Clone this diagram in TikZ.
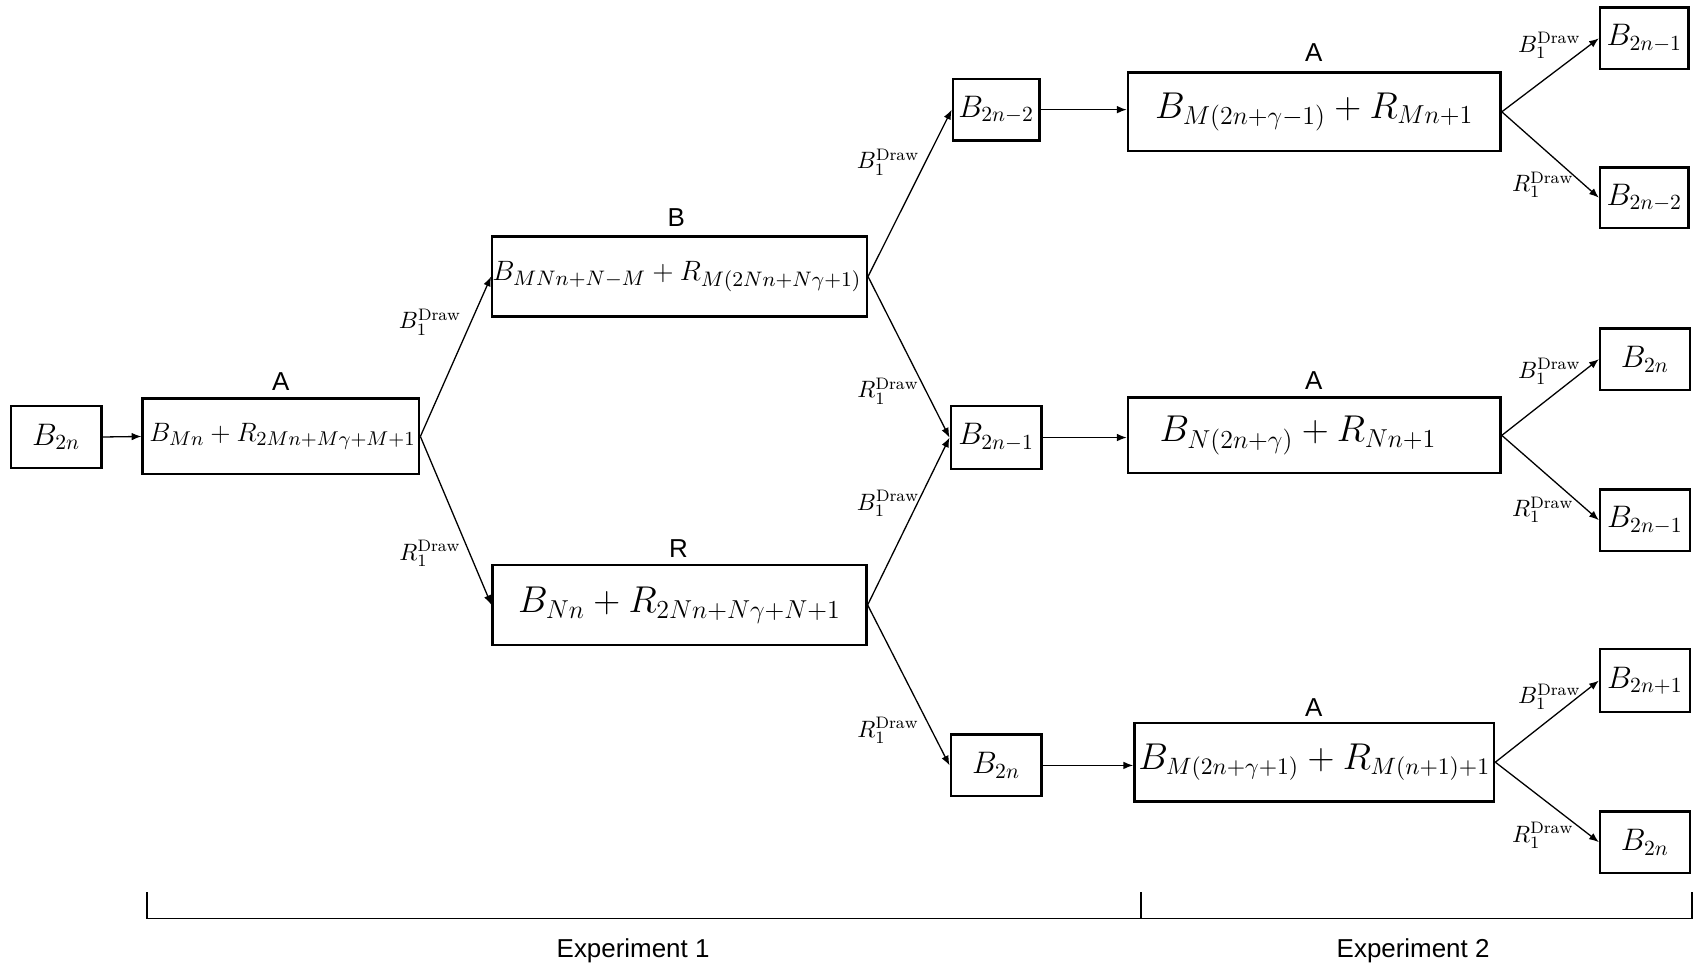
\documentclass[tikz,border=0pt]{standalone}
\usepackage{graphicx}
\usepackage{fontspec}
\setsansfont{Liberation Sans}
\usetikzlibrary{arrows.meta}
\tikzset{
  box/.style={draw, line width=1.1pt, inner sep=0pt, font=\fontsize{14}{16}\selectfont},
  bigbox/.style={box, font=\fontsize{16.5}{18}\selectfont},
  arr/.style={-{Latex[length=4.5pt,width=3.5pt]}, line width=0.6pt},
  elab/.style={inner sep=0pt, font=\fontsize{11}{12}\selectfont},
  grp/.style={inner sep=0pt, font=\sffamily\fontsize{12}{14}\selectfont},
  brk/.style={line width=0.6pt}
}
\begin{document}
\begin{tikzpicture}[x=0.5pt,y=-0.5pt]
\useasboundingbox (0,0) rectangle (1568,897);
% nodes
\node[box, minimum width=42pt, minimum height=28.5pt] (n0) at (52,404.5) {$B_{2n}$};
\node[box, minimum width=128pt, minimum height=35pt, font=\fontsize{13.1}{15}\selectfont] (a1) at (260,404) {\rule{1.5pt}{0pt}\scalebox{1.025}{$B_{Mn}+R_{2Mn+M\gamma+M+1}$}};
\node[box, minimum width=173pt, minimum height=37pt, font=\fontsize{13.1}{15}\selectfont] (bb) at (629,256) {\scalebox{1.08}{$B_{MNn+N-M}+R_{M(2Nn+N\gamma+1)}$}\rule{2.5pt}{0pt}};
\node[bigbox, minimum width=173pt, minimum height=37pt] (rr) at (629,560) {$B_{Nn}+R_{2Nn+N\gamma+N+1}$};
\node[box, minimum width=40pt, minimum height=28.5pt] (s1) at (922,101.5) {$B_{2n-2}$};
\node[box, minimum width=42pt, minimum height=29pt] (s2) at (922,405) {$B_{2n-1}$};
\node[box, minimum width=42pt, minimum height=28.5pt] (s3) at (922,708.5) {$B_{2n}$};
\node[bigbox, minimum width=172.5pt, minimum height=36.5pt] (t1) at (1216.5,103.5) {$B_{M(2n+\gamma-1)}+R_{Mn+1}$};
\node[bigbox, minimum width=172.5pt, minimum height=35pt] (t2) at (1216.5,403) {$B_{N(2n+\gamma)}+R_{Nn+1}$\rule{15pt}{0pt}};
\node[bigbox, minimum width=166.5pt, minimum height=36.5pt, font=\fontsize{16.1}{17}\selectfont] (t3) at (1216.5,705.5) {$B_{M(2n+\gamma+1)}+R_{M(n+1)+1}$};
\node[box, minimum width=41pt, minimum height=28.5pt] (r1) at (1522,35.5) {$B_{2n-1}$};
\node[box, minimum width=41pt, minimum height=28pt] (r2) at (1522,183) {$B_{2n-2}$};
\node[box, minimum width=41.5pt, minimum height=28.5pt] (r3) at (1522.5,332.5) {$B_{2n}$};
\node[box, minimum width=41.5pt, minimum height=28.5pt] (r4) at (1522.5,481.5) {$B_{2n-1}$};
\node[box, minimum width=41.5pt, minimum height=29pt] (r5) at (1522.5,630) {$B_{2n+1}$};
\node[box, minimum width=41.5pt, minimum height=28.5pt] (r6) at (1522.5,779.5) {$B_{2n}$};
% group labels
\node[grp] (la1) at (260,353) {A};
\node[grp] (lbb) at (626,201) {B};
\node[grp] (lrr) at (628,508) {R};
\node[grp] (lt1) at (1216,49) {A};
\node[grp] (lt2) at (1216,352) {A};
\node[grp] (lt3) at (1216,655) {A};
% connectors
\draw[arr] (n0.east) -- (a1.west);
\draw[arr] (a1.east) -- (bb.west);
\draw[arr] (a1.east) -- (rr.west);
\draw[arr] (bb.east) -- (s1.west);
\draw[arr] (bb.east) -- (s2.west);
\draw[arr] (rr.east) -- (s2.west);
\draw[arr] (rr.east) -- (s3.west);
\draw[arr] (s1.east) -- (t1.west |- s1.east);
\draw[arr] (s2.east) -- (t2.west |- s2.east);
\draw[arr] (s3.east) -- (t3.west |- s3.east);
\draw[arr] (t1.east) -- (r1.west);
\draw[arr] (t1.east) -- (r2.west);
\draw[arr] (t2.east) -- (r3.west);
\draw[arr] (t2.east) -- (r4.west);
\draw[arr] (t3.east) -- (r5.west);
\draw[arr] (t3.east) -- (r6.west);
% edge labels
\node[elab] (e1) at (398,298) {$B_1^{\mathrm{Draw}}$};
\node[elab] (e2) at (398,512) {$R_1^{\mathrm{Draw}}$};
\node[elab] (e3) at (822,150) {$B_1^{\mathrm{Draw}}$};
\node[elab] (e4) at (822,362) {$R_1^{\mathrm{Draw}}$};
\node[elab] (e5) at (822,466) {$B_1^{\mathrm{Draw}}$};
\node[elab] (e6) at (822,676) {$R_1^{\mathrm{Draw}}$};
\node[elab] (e7) at (1434,42) {$B_1^{\mathrm{Draw}}$};
\node[elab] (e8) at (1428,171) {$R_1^{\mathrm{Draw}}$};
\node[elab] (e9) at (1434,344) {$B_1^{\mathrm{Draw}}$};
\node[elab] (e10) at (1428,472) {$R_1^{\mathrm{Draw}}$};
\node[elab] (e11) at (1434,645) {$B_1^{\mathrm{Draw}}$};
\node[elab] (e12) at (1428,773) {$R_1^{\mathrm{Draw}}$};
% bracket
\coordinate (k1) at (136,826);
\coordinate (k2) at (136,850);
\coordinate (k3) at (1566,850);
\coordinate (k4) at (1566,826);
\coordinate (k5) at (1056,826);
\coordinate (k6) at (1056,850);
\draw[brk] (k1) -- (k2) -- (k3) -- (k4);
\draw[brk] (k5) -- (k6);
\node[grp] (x1) at (586,880) {Experiment 1};
\node[grp] (x2) at (1308,880) {Experiment 2};
\end{tikzpicture}
\end{document}
